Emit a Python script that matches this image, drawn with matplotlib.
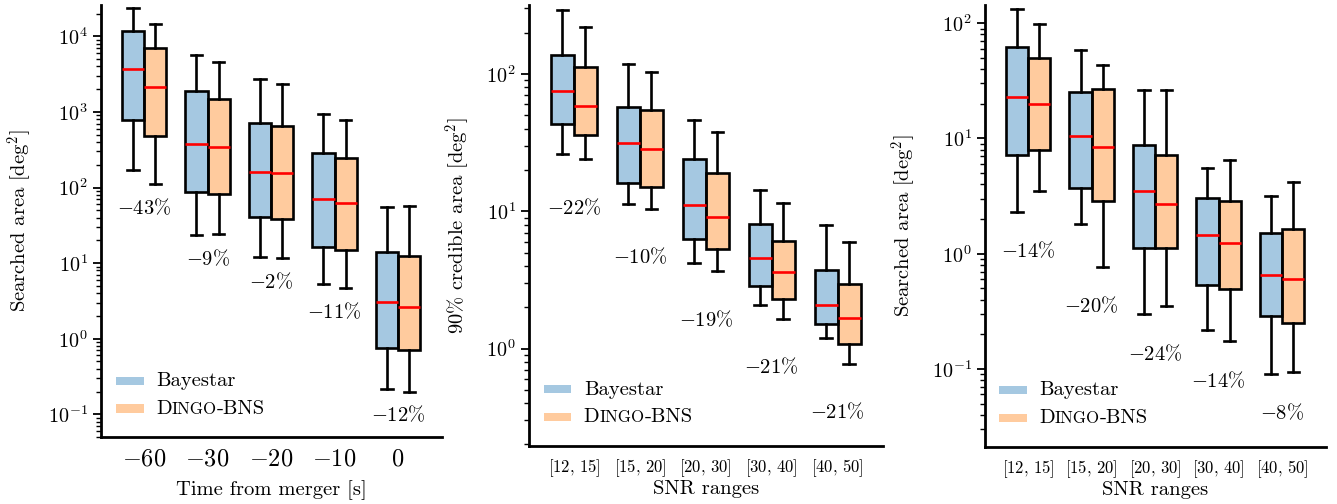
import numpy as np
import matplotlib
matplotlib.use("Agg")
import matplotlib.pyplot as plt
from matplotlib.colors import to_rgba
from matplotlib.patches import Rectangle
from matplotlib.offsetbox import (AnchoredOffsetbox, DrawingArea, HPacker,
                                  TextArea, VPacker)

plt.rcParams['font.family'] = 'cmr10'
plt.rcParams['mathtext.fontset'] = 'cm'
plt.rcParams['axes.formatter.use_mathtext'] = True
plt.rcParams['axes.unicode_minus'] = False

# ---------------- data ----------------
# each stat list: [whisker low, Q1, median, Q3, whisker high]
time_labels = [r'$-60$', r'$-30$', r'$-20$', r'$-10$', r'$0$']
time_bayestar = [[173, 776, 3740, 11650, 23900],
                 [23.7, 86.8, 374, 1900, 5610],
                 [11.9, 40.2, 160, 723, 2760],
                 [5.27, 16.4, 70.1, 287, 951],
                 [0.218, 0.745, 3.02, 14.0, 56.1]]
time_dingo = [[110, 482, 2140, 7010, 14700],
              [24.2, 81.7, 345, 1490, 4580],
              [11.6, 38.1, 156, 653, 2320],
              [4.68, 15.0, 62.1, 249, 776],
              [0.200, 0.716, 2.65, 12.6, 57.8]]
time_change = ['-43', '-9', '-2', '-11', '-12']

snr_labels = [r'$[12,\,15]$', r'$[15,\,20]$', r'$[20,\,30]$',
              r'$[30,\,40]$', r'$[40,\,50]$']
cred_bayestar = [[26.1, 43.0, 74.8, 138, 293],
                 [11.2, 16.0, 31.4, 57.2, 118],
                 [4.17, 6.23, 11.1, 24.0, 46.3],
                 [2.07, 2.86, 4.60, 8.06, 14.3],
                 [1.20, 1.50, 2.09, 3.72, 7.93]]
cred_dingo = [[23.9, 35.9, 58.5, 112, 221],
              [10.4, 15.1, 28.2, 54.3, 103],
              [3.66, 5.30, 9.06, 19.0, 37.6],
              [1.64, 2.29, 3.60, 6.05, 11.5],
              [0.773, 1.08, 1.66, 2.93, 5.93]]
cred_change = ['-22', '-10', '-19', '-21', '-21']

srch_bayestar = [[2.32, 7.16, 23.0, 61.8, 132],
                 [1.81, 3.75, 10.5, 25.1, 58.2],
                 [0.299, 1.11, 3.53, 8.69, 26.1],
                 [0.216, 0.537, 1.44, 3.07, 5.56],
                 [0.0906, 0.287, 0.649, 1.50, 3.17]]
srch_dingo = [[3.48, 7.87, 19.9, 50.2, 98.0],
              [0.771, 2.85, 8.41, 26.9, 43.4],
              [0.353, 1.11, 2.70, 7.16, 26.3],
              [0.174, 0.493, 1.24, 2.85, 6.44],
              [0.0948, 0.249, 0.598, 1.63, 4.20]]
srch_change = ['-14', '-20', '-24', '-14', '-8']

# ---------------- style ----------------
c_bay = to_rgba('C0', 0.4)
c_din = to_rgba('C1', 0.4)
fs = 14.8
lw = 1.9
width = 0.35


def stats(vals):
    lo, q1, med, q3, hi = vals
    return dict(whislo=lo, q1=q1, med=med, q3=q3, whishi=hi, fliers=[])


def small_caps_legend(ax, anchor):
    rows = []
    for col, parts in [(c_bay, [('Bayestar', fs)]),
                       (c_din, [('D', fs), ('INGO', fs * 0.82), ('-BNS', fs)])]:
        da = DrawingArea(20, 10, 0, 0)
        da.add_artist(Rectangle((0, 2.2), 20, 5.8, facecolor=col, edgecolor='none'))
        txt = HPacker(children=[TextArea(t, textprops=dict(fontsize=s, family='cmr10'))
                                for t, s in parts], align='baseline', pad=0, sep=0)
        rows.append(HPacker(children=[da, txt], align='center', pad=0, sep=9))
    box = VPacker(children=rows, align='left', pad=0, sep=7)
    anc = AnchoredOffsetbox(loc='lower left', child=box, pad=0, borderpad=0,
                            frameon=False, bbox_to_anchor=anchor,
                            bbox_transform=ax.transAxes)
    ax.add_artist(anc)


def panel(ax, bay, din, change, labels, xlabel, ylabel, ylim, xtick_fs, anchor, xpad):
    pos = np.arange(len(labels))
    for data, col, off in [(bay, c_bay, -width / 2), (din, c_din, width / 2)]:
        ax.bxp([stats(v) for v in data], positions=pos + off, widths=width,
               patch_artist=True, showfliers=False, manage_ticks=False,
               boxprops=dict(facecolor=col, edgecolor='k', linewidth=lw),
               whiskerprops=dict(color='k', linewidth=lw),
               capprops=dict(color='k', linewidth=lw),
               medianprops=dict(color='red', linewidth=lw))
    for i, c in enumerate(change):
        y = 0.4 * min(bay[i][0], din[i][0])
        ax.text(pos[i], y, r'$' + c + r'\%$', ha='center', va='baseline', fontsize=fs)
    ax.set_yscale('log')
    ax.set_ylim(*ylim)
    ax.set_xlim(-0.68, len(labels) - 1 + 0.69)
    ax.set_xticks(pos)
    ax.set_xticklabels(labels, fontsize=xtick_fs)
    ax.tick_params(axis='x', length=0, pad=8)
    ax.tick_params(axis='y', which='major', length=6, width=1.3, labelsize=14.5)
    ax.tick_params(axis='y', which='minor', length=3.5, width=1.0)
    for s in ['top', 'right']:
        ax.spines[s].set_visible(False)
    for s in ['left', 'bottom']:
        ax.spines[s].set_linewidth(2.0)
    ax.set_xlabel(xlabel, fontsize=14.8, labelpad=xpad)
    ax.set_ylabel(ylabel, fontsize=14.8, labelpad=10)
    small_caps_legend(ax, anchor)


fig = plt.figure(figsize=(13.37, 5.04), dpi=100)
ax1 = fig.add_axes([0.0755, 0.1329, 0.2550, 0.8571])
ax2 = fig.add_axes([0.3957, 0.1151, 0.2648, 0.8750])
ax3 = fig.add_axes([0.7367, 0.1131, 0.2550, 0.8770])

panel(ax1, time_bayestar, time_dingo, time_change, time_labels,
      'Time from merger [s]', r'Searched area [deg$^2$]', (0.05, 2.6e4), 17.5,
      (0.044, 0.045), 7)
panel(ax2, cred_bayestar, cred_dingo, cred_change, snr_labels,
      'SNR ranges', r'90% credible area [deg$^2$]', (0.195, 318), 12,
      (0.041, 0.045), 1)
panel(ax3, srch_bayestar, srch_dingo, srch_change, snr_labels,
      'SNR ranges', r'Searched area [deg$^2$]', (0.021, 144), 12,
      (0.041, 0.045), 1)

fig.savefig('out.png', dpi=100)
